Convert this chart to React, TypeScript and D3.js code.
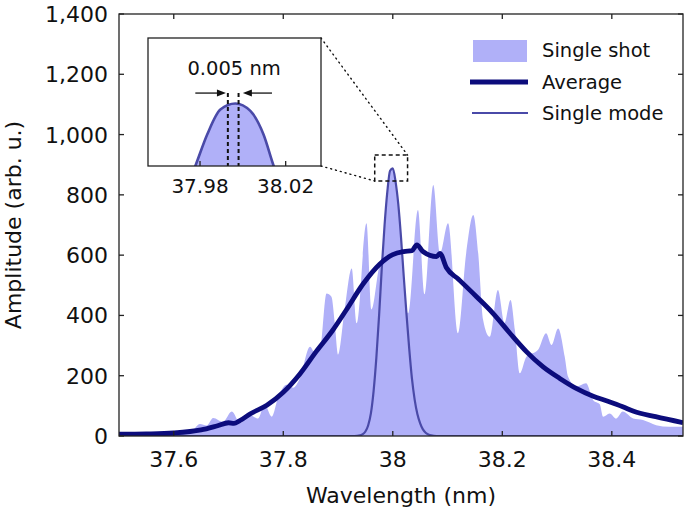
import React from 'react';
import * as d3 from 'd3';

// single shot spectrum (wavelength nm, amplitude)
const shotWl = [37.5, 37.55, 37.6, 37.63, 37.648, 37.66, 37.672, 37.69, 37.706, 37.721, 37.739, 37.754, 37.766, 37.779, 37.791, 37.806, 37.818, 37.83, 37.849, 37.858, 37.867, 37.879, 37.888, 37.894, 37.9, 37.912, 37.925, 37.934, 37.952, 37.961, 37.975, 37.99, 38.005, 38.018, 38.028, 38.046, 38.058, 38.074, 38.086, 38.101, 38.119, 38.134, 38.147, 38.156, 38.165, 38.177, 38.192, 38.204, 38.215, 38.223, 38.232, 38.244, 38.265, 38.28, 38.29, 38.302, 38.314, 38.32, 38.335, 38.353, 38.366, 38.378, 38.384, 38.396, 38.408, 38.42, 38.439, 38.457, 38.481, 38.505, 38.53];
const shotAmp = [2, 3, 5, 12, 40, 35, 60, 47, 81, 43, 70, 58, 105, 64, 130, 170, 160, 190, 296, 275, 285, 473, 462, 375, 270, 418, 556, 374, 706, 420, 560, 620, 600, 520, 407, 750, 470, 833, 606, 706, 341, 606, 733, 606, 385, 329, 484, 374, 451, 352, 208, 263, 285, 341, 302, 357, 263, 197, 164, 175, 119, 105, 64, 75, 58, 81, 58, 53, 36, 31, 31];

// averaged spectrum
const avgWl = [37.5, 37.55, 37.6, 37.65, 37.68, 37.7, 37.71, 37.72, 37.74, 37.77, 37.8, 37.83, 37.86, 37.89, 37.915, 37.946, 37.976, 38.0, 38.02, 38.035, 38.044, 38.055, 38.08, 38.086, 38.098, 38.12, 38.153, 38.183, 38.214, 38.244, 38.274, 38.305, 38.335, 38.366, 38.39, 38.42, 38.44, 38.48, 38.53];
const avgAmp = [6, 7, 10, 20, 34, 44, 42, 50, 74, 102, 145, 205, 280, 350, 418, 505, 570, 602, 612, 615, 634, 612, 595, 606, 558, 520, 462, 407, 341, 280, 230, 191, 158, 132, 117, 97, 82, 64, 44];

// single longitudinal mode
const modeWl = [37.5, 37.93, 37.94, 37.945, 37.95, 37.955, 37.96, 37.965, 37.97, 37.975, 37.98, 37.985, 37.99, 37.995, 38.0, 38.005, 38.01, 38.015, 38.02, 38.025, 38.03, 38.035, 38.04, 38.045, 38.05, 38.055, 38.06, 38.065, 38.07, 38.08, 38.53];
const modeAmp = [0, 0, 2, 6, 15, 35, 75, 150, 260, 400, 560, 700, 810, 880, 888, 845, 770, 660, 530, 405, 290, 190, 120, 72, 42, 22, 11, 5, 2, 0, 0];

// zoomed top of the single mode (inset)
const insetWl = [37.975, 37.9778, 37.9833, 37.9895, 37.9965, 38.0035, 38.0097, 38.0144, 38.017];
const insetAmp = [836, 846, 867, 884, 888, 883, 867, 846, 836];

const xTicks = [37.6, 37.8, 38, 38.2, 38.4];
const yTicks = [0, 200, 400, 600, 800, 1000, 1200, 1400];
const insetTicks = [37.98, 38.02];
const fwhmMarks = [37.993, 37.998];
const zoomBox = { wl: [37.967, 38.027], amp: [846, 932] };
const legendLabels = ['Single shot', 'Average', 'Single mode'];

const FILL = '#b0b0f8';
const NAVY = '#0c0c7c';
const MODE = '#4a4aa8';
const AX = '#222';
const FONT = 'DejaVu Sans, Arial, sans-serif';

const zip = (a: number[], b: number[]) => a.map((v, i) => [v, b[i]] as [number, number]);

export default function App() {
  const x = d3.scaleLinear().domain([37.5, 38.53]).range([119, 683]);
  const y = d3.scaleLinear().domain([0, 1400]).range([436, 14]);
  const [x0, x1] = x.range();
  const [yb, yt] = y.range();

  const ix = d3.scaleLinear().domain([37.9557, 38.0365]).range([148, 321]);
  const iy = d3.scaleLinear().domain([846, 932]).range([166, 38]);
  const [ix0, ix1] = ix.range();
  const [iyb, iyt] = iy.range();

  const area = d3.area<[number, number]>().x(d => x(d[0])).y0(yb).y1(d => y(d[1])).curve(d3.curveMonotoneX);
  const line = d3.line<[number, number]>().x(d => x(d[0])).y(d => y(d[1])).curve(d3.curveMonotoneX);
  const iArea = d3.area<[number, number]>().x(d => ix(d[0])).y0(iyb + 5).y1(d => iy(d[1])).curve(d3.curveMonotoneX);
  const iLine = d3.line<[number, number]>().x(d => ix(d[0])).y(d => iy(d[1])).curve(d3.curveMonotoneX);

  const shot = zip(shotWl, shotAmp);
  const avg = zip(avgWl, avgAmp);
  const mode = zip(modeWl, modeAmp);
  const ins = zip(insetWl, insetAmp);

  const bx0 = x(zoomBox.wl[0]), bx1 = x(zoomBox.wl[1]);
  const by0 = y(zoomBox.amp[1]), by1 = y(zoomBox.amp[0]);

  const arrowY = iy(895);
  const aL0 = ix(37.9778), aL1 = ix(37.9921);
  const aR0 = ix(38.0136), aR1 = ix(38.0);

  return (
    <svg width={685} height={511} style={{ position: 'absolute', left: 0, top: 0, fontFamily: FONT }}>
      <defs>
        <clipPath id="plot"><rect x={x0} y={yt} width={x1 - x0} height={yb - yt} /></clipPath>
        <clipPath id="inset"><rect x={ix0} y={iyt} width={ix1 - ix0} height={iyb - iyt} /></clipPath>
      </defs>
      <rect width={685} height={511} fill="#fff" />

      <g clipPath="url(#plot)">
        <path d={area(shot) || ''} fill={FILL} />
        <path d={area(mode) || ''} fill={FILL} />
        <path d={line(mode) || ''} fill="none" stroke={MODE} strokeWidth={2.2} />
        <path d={line(avg) || ''} fill="none" stroke={NAVY} strokeWidth={4.8} strokeLinejoin="round" />
      </g>

      {/* frame and ticks */}
      <rect x={x0} y={yt} width={x1 - x0} height={yb - yt} fill="none" stroke={AX} strokeWidth={1.3} />
      {xTicks.map(t => (
        <g key={t}>
          <line x1={x(t)} x2={x(t)} y1={yb} y2={yb - 5} stroke={AX} strokeWidth={1.3} />
          <line x1={x(t)} x2={x(t)} y1={yt} y2={yt + 5} stroke={AX} strokeWidth={1.3} />
          <text x={x(t)} y={467} textAnchor="middle" fontSize={22} fill="#111">{d3.format('')(t)}</text>
        </g>
      ))}
      {yTicks.map(t => (
        <g key={t}>
          <line x1={x0} x2={x0 + 5} y1={y(t)} y2={y(t)} stroke={AX} strokeWidth={1.3} />
          <line x1={x1} x2={x1 - 5} y1={y(t)} y2={y(t)} stroke={AX} strokeWidth={1.3} />
          <text x={108} y={y(t) + 8} textAnchor="end" fontSize={22} fill="#111">{d3.format(',')(t)}</text>
        </g>
      ))}
      <text x={(x0 + x1) / 2} y={503} textAnchor="middle" fontSize={22} fill="#111">Wavelength (nm)</text>
      <text transform={`translate(21,${(yb + yt) / 2}) rotate(-90)`} textAnchor="middle" fontSize={22} fill="#111">Amplitude (arb. u.)</text>

      {/* zoom marker and connectors */}
      <rect x={bx0} y={by0} width={bx1 - bx0} height={by1 - by0} fill="none" stroke="#111" strokeWidth={1.5} strokeDasharray="4,3" />
      <line x1={ix1} y1={iyt} x2={bx1} y2={by0} stroke="#111" strokeWidth={1.4} strokeDasharray="1,4" strokeLinecap="round" />
      <line x1={ix1} y1={iyb} x2={bx0} y2={by1} stroke="#111" strokeWidth={1.4} strokeDasharray="1,4" strokeLinecap="round" />

      {/* inset */}
      <rect x={ix0} y={iyt} width={ix1 - ix0} height={iyb - iyt} fill="#fff" />
      <g clipPath="url(#inset)">
        <path d={iArea(ins) || ''} fill={FILL} />
        <path d={iLine(ins) || ''} fill="none" stroke={MODE} strokeWidth={2.6} />
        {fwhmMarks.map(m => (
          <line key={m} x1={ix(m)} x2={ix(m)} y1={arrowY} y2={iyb} stroke="#111" strokeWidth={2} strokeDasharray="4,3" />
        ))}
      </g>
      <rect x={ix0} y={iyt} width={ix1 - ix0} height={iyb - iyt} fill="none" stroke={AX} strokeWidth={1.3} />
      {insetTicks.map(t => (
        <g key={t}>
          <line x1={ix(t)} x2={ix(t)} y1={iyb} y2={iyb - 5} stroke={AX} strokeWidth={1.3} />
          <text x={ix(t)} y={193} textAnchor="middle" fontSize={20} fill="#111">{t.toFixed(2)}</text>
        </g>
      ))}
      <line x1={aL0} x2={aL1 - 6} y1={arrowY} y2={arrowY} stroke="#111" strokeWidth={1.3} />
      <path d={`M${aL1},${arrowY}L${aL1 - 9},${arrowY - 3.5}L${aL1 - 9},${arrowY + 3.5}Z`} fill="#111" />
      <line x1={aR0} x2={aR1 + 6} y1={arrowY} y2={arrowY} stroke="#111" strokeWidth={1.3} />
      <path d={`M${aR1},${arrowY}L${aR1 + 9},${arrowY - 3.5}L${aR1 + 9},${arrowY + 3.5}Z`} fill="#111" />
      <text x={ix(37.9959)} y={iy(907)} textAnchor="middle" fontSize={19.5} fill="#111">0.005 nm</text>

      {/* legend */}
      <g fontSize={19.5} fill="#111">
        <rect x={473} y={40} width={54} height={22} fill={FILL} />
        <line x1={470} x2={528} y1={82} y2={82} stroke={NAVY} strokeWidth={5} />
        <line x1={472} x2={528} y1={113} y2={113} stroke={MODE} strokeWidth={2.2} />
        {legendLabels.map((l, i) => (
          <text key={l} x={542} y={57 + i * 31.5}>{l}</text>
        ))}
      </g>
    </svg>
  );
}
